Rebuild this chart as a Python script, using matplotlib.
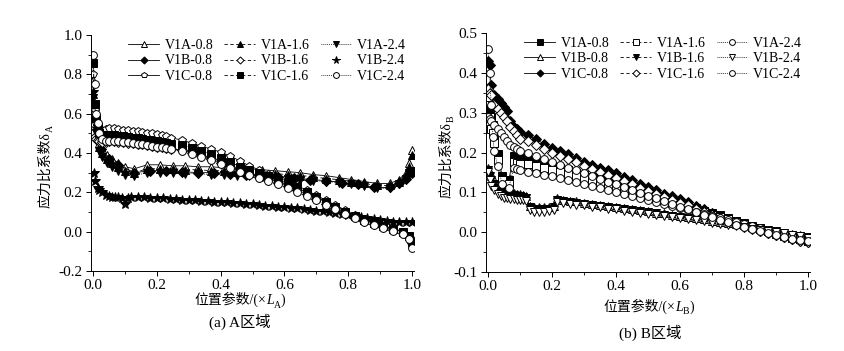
import matplotlib
matplotlib.use('Agg')
import matplotlib.pyplot as plt
from matplotlib.ticker import MultipleLocator, FormatStrFormatter

plt.rcParams['font.family'] = ['Liberation Serif', 'Noto Sans CJK SC']
plt.rcParams['axes.unicode_minus'] = False
plt.rcParams['font.size'] = 10

# ---------------- (a) A region ----------------
xA_up = [0.0, 0.005, 0.01, 0.015, 0.02, 0.03, 0.04, 0.05, 0.065, 0.08, 0.095, 0.11, 0.125, 0.14,
         0.155, 0.17, 0.185, 0.2, 0.215, 0.23, 0.245, 0.28, 0.31, 0.34, 0.37, 0.4, 0.43, 0.46, 0.49,
         0.52, 0.55, 0.58, 0.61, 0.64, 0.67, 0.7, 0.73, 0.76, 0.79, 0.82, 0.85, 0.88, 0.91, 0.94,
         0.97, 0.99, 1.0]
xA_mid = [0.0, 0.005, 0.01, 0.02, 0.03, 0.045, 0.06, 0.08, 0.1, 0.13, 0.17, 0.21, 0.25, 0.29,
          0.33, 0.37, 0.41, 0.45, 0.49, 0.53, 0.57, 0.61, 0.65, 0.69, 0.73, 0.77, 0.81, 0.85,
          0.89, 0.93, 0.96, 0.98, 0.99, 1.0]
xA_b08 = [0.0, 0.01, 0.025, 0.05, 0.08, 0.13, 0.18, 0.23, 0.28, 0.33, 0.38, 0.43, 0.48, 0.53,
          0.58, 0.63, 0.68, 0.73, 0.78, 0.83, 0.88, 0.93, 0.96, 0.98, 1.0]
xA_low = [0.0, 0.003, 0.008, 0.015, 0.02, 0.03, 0.04, 0.05, 0.06, 0.07, 0.08, 0.09, 0.1, 0.11,
          0.12, 0.14, 0.16, 0.18, 0.2, 0.22, 0.24, 0.26, 0.28, 0.3, 0.32, 0.34, 0.36, 0.38, 0.4,
          0.42, 0.44, 0.46, 0.48, 0.5, 0.52, 0.54, 0.56, 0.58, 0.6, 0.62, 0.64, 0.66, 0.68, 0.7,
          0.72, 0.74, 0.76, 0.78, 0.8, 0.82, 0.84, 0.86, 0.88, 0.9, 0.92, 0.94, 0.96, 0.98, 1.0]

a_V1A_08 = [0.77, 0.64, 0.55, 0.45, 0.42, 0.39, 0.37, 0.35, 0.33, 0.32, 0.34, 0.34, 0.335, 0.335,
            0.33, 0.33, 0.325, 0.32, 0.32, 0.315, 0.31, 0.305, 0.30, 0.29, 0.285, 0.275, 0.265,
            0.255, 0.245, 0.245, 0.265, 0.30, 0.35, 0.415]
a_V1A_16 = [0.70, 0.60, 0.52, 0.43, 0.40, 0.37, 0.35, 0.33, 0.31, 0.30, 0.32, 0.32, 0.32, 0.315,
            0.315, 0.31, 0.31, 0.305, 0.30, 0.30, 0.295, 0.29, 0.285, 0.28, 0.27, 0.265, 0.255,
            0.245, 0.235, 0.235, 0.255, 0.29, 0.33, 0.39]
a_V1A_24 = [0.68, 0.58, 0.50, 0.41, 0.38, 0.35, 0.33, 0.31, 0.29, 0.285, 0.30, 0.30, 0.30, 0.295,
            0.295, 0.29, 0.29, 0.285, 0.285, 0.28, 0.275, 0.27, 0.265, 0.26, 0.255, 0.25, 0.24,
            0.23, 0.22, 0.22, 0.24, 0.27, 0.30, 0.31]
a_V1B_08 = [0.65, 0.50, 0.42, 0.37, 0.34, 0.30, 0.31, 0.31, 0.305, 0.30, 0.30, 0.295, 0.29, 0.285,
            0.28, 0.275, 0.265, 0.26, 0.25, 0.24, 0.225, 0.225, 0.245, 0.27, 0.30]
a_V1B_16 = [0.50, 0.48, 0.47, 0.465, 0.46, 0.455, 0.458, 0.46, 0.46, 0.458, 0.455, 0.452, 0.45,
            0.447, 0.444, 0.44, 0.437, 0.433, 0.43, 0.426, 0.422, 0.415, 0.40, 0.385, 0.37, 0.35,
            0.33, 0.31, 0.295, 0.28, 0.265, 0.25, 0.23, 0.21, 0.19, 0.165, 0.14, 0.12, 0.095,
            0.075, 0.055, 0.04, 0.025, 0.01, -0.005, -0.025, -0.06]
a_V1B_24 = [0.71, 0.30, 0.26, 0.22, 0.21, 0.20, 0.185, 0.18, 0.175, 0.175, 0.178, 0.17, 0.14, 0.17,
            0.175, 0.175, 0.174, 0.172, 0.17, 0.169, 0.167, 0.165, 0.163, 0.161, 0.159, 0.157,
            0.155, 0.153, 0.151, 0.149, 0.147, 0.145, 0.142, 0.139, 0.136, 0.133, 0.13, 0.127,
            0.124, 0.121, 0.118, 0.115, 0.111, 0.107, 0.103, 0.099, 0.095, 0.09, 0.085, 0.08,
            0.075, 0.07, 0.065, 0.06, 0.055, 0.05, 0.048, 0.047, 0.048]
a_V1C_08 = [0.80, 0.62, 0.55, 0.52, 0.51, 0.515, 0.52, 0.525, 0.525, 0.52, 0.518, 0.515, 0.512,
            0.51, 0.507, 0.503, 0.5, 0.495, 0.49, 0.485, 0.478, 0.465, 0.45, 0.435, 0.42, 0.405,
            0.385, 0.36, 0.335, 0.315, 0.295, 0.275, 0.255, 0.235, 0.21, 0.185, 0.16, 0.135, 0.11,
            0.085, 0.065, 0.045, 0.03, 0.015, 0.0, -0.03, -0.08]
a_V1C_16 = [0.86, 0.65, 0.58, 0.53, 0.50, 0.49, 0.49, 0.49, 0.49, 0.488, 0.485, 0.482, 0.478,
            0.475, 0.47, 0.467, 0.463, 0.46, 0.455, 0.45, 0.445, 0.44, 0.425, 0.41, 0.395, 0.375,
            0.355, 0.33, 0.315, 0.30, 0.285, 0.265, 0.245, 0.225, 0.20, 0.175, 0.15, 0.125, 0.10,
            0.08, 0.06, 0.045, 0.03, 0.015, 0.0, -0.02, -0.05]
a_V1C_24 = [0.90, 0.75, 0.60, 0.55, 0.50, 0.47, 0.462, 0.462, 0.462, 0.46, 0.457, 0.454, 0.451,
            0.448, 0.445, 0.441, 0.437, 0.433, 0.429, 0.425, 0.42, 0.41, 0.395, 0.38, 0.365, 0.345,
            0.325, 0.305, 0.29, 0.275, 0.26, 0.24, 0.22, 0.2, 0.18, 0.16, 0.135, 0.115, 0.09,
            0.07, 0.05, 0.035, 0.02, 0.005, -0.01, -0.035, -0.085]

# ---------------- (b) B region ----------------
xB_tail = [0.125, 0.15, 0.175, 0.2, 0.225, 0.25, 0.275, 0.3, 0.325, 0.35, 0.375, 0.4, 0.425, 0.45,
           0.475, 0.5, 0.525, 0.55, 0.575, 0.6, 0.625, 0.65, 0.675, 0.7, 0.725, 0.75, 0.775, 0.8,
           0.825, 0.85, 0.875, 0.9, 0.925, 0.95, 0.975, 1.0]
xB_a = [0.0, 0.005, 0.01, 0.015, 0.02, 0.03, 0.045, 0.065, 0.08, 0.09, 0.1] + xB_tail
xB_c = [0.0, 0.005, 0.01, 0.02, 0.03, 0.04, 0.05, 0.06, 0.07, 0.08, 0.09, 0.1] + xB_tail
xB_b = [0.0, 0.005, 0.01, 0.02, 0.03, 0.04, 0.05, 0.06, 0.07, 0.08, 0.09, 0.1, 0.11, 0.12, 0.13,
        0.145, 0.16, 0.175, 0.19, 0.205, 0.215, 0.235, 0.255, 0.275, 0.3, 0.325, 0.35, 0.375,
        0.4, 0.425, 0.45, 0.475, 0.5, 0.525, 0.55, 0.575, 0.6, 0.625, 0.65, 0.675, 0.7, 0.725,
        0.75, 0.775, 0.8, 0.825, 0.85, 0.875, 0.9, 0.925, 0.95, 0.975, 1.0]

b_V1A_08 = [0.36, 0.31, 0.29, 0.27, 0.245, 0.195, 0.14, 0.13, 0.19, 0.188, 0.185,
            0.18, 0.176, 0.17, 0.165, 0.16, 0.155, 0.149, 0.144, 0.139, 0.134, 0.128, 0.123,
            0.118, 0.112, 0.106, 0.1, 0.094, 0.087, 0.08, 0.073, 0.067, 0.06, 0.054, 0.048,
            0.042, 0.035, 0.029, 0.023, 0.016, 0.01, 0.004, -0.002, -0.008, -0.013, -0.018, -0.022]
b_V1A_16 = [0.34, 0.29, 0.26, 0.25, 0.225, 0.18, 0.13, 0.12, 0.175, 0.173, 0.17,
            0.172, 0.167, 0.162, 0.157, 0.152, 0.147, 0.141, 0.136, 0.131, 0.126, 0.12, 0.115,
            0.11, 0.104, 0.098, 0.092, 0.086, 0.08, 0.074, 0.068, 0.062, 0.056, 0.05, 0.044,
            0.038, 0.032, 0.026, 0.02, 0.014, 0.008, 0.002, -0.004, -0.009, -0.014, -0.018, -0.022]
b_V1A_24 = [0.46, 0.40, 0.32, 0.24, 0.205, 0.165, 0.12, 0.11, 0.16, 0.158, 0.156,
            0.152, 0.148, 0.144, 0.14, 0.136, 0.131, 0.126, 0.121, 0.116, 0.111, 0.106, 0.1,
            0.095, 0.09, 0.085, 0.08, 0.075, 0.07, 0.065, 0.06, 0.055, 0.05, 0.045, 0.04, 0.035,
            0.03, 0.025, 0.02, 0.015, 0.01, 0.005, 0.0, -0.005, -0.01, -0.015, -0.02]
b_V1B_08 = [0.16, 0.15, 0.14, 0.13, 0.12, 0.112, 0.106, 0.102, 0.1, 0.098, 0.097, 0.096, 0.094,
            0.092, 0.066, 0.063, 0.062, 0.062, 0.063, 0.066, 0.085, 0.082, 0.079, 0.077, 0.074,
            0.071, 0.069, 0.066, 0.064, 0.061, 0.058, 0.055, 0.052, 0.049, 0.047, 0.044, 0.041,
            0.038, 0.035, 0.032, 0.029, 0.026, 0.023, 0.02, 0.017, 0.013, 0.01, 0.006, 0.003,
            -0.001, -0.005, -0.008, -0.012]
b_V1B_16 = [0.155, 0.14, 0.13, 0.12, 0.11, 0.104, 0.1, 0.097, 0.095, 0.093, 0.092, 0.09, 0.089,
            0.087, 0.062, 0.058, 0.057, 0.057, 0.058, 0.062, 0.081, 0.079, 0.076, 0.074, 0.071,
            0.069, 0.066, 0.063, 0.061, 0.058, 0.055, 0.052, 0.05, 0.047, 0.044, 0.041, 0.038,
            0.036, 0.033, 0.03, 0.027, 0.024, 0.021, 0.018, 0.015, 0.012, 0.008, 0.005, 0.002,
            -0.002, -0.006, -0.009, -0.013]
b_V1B_24 = [0.15, 0.13, 0.115, 0.105, 0.095, 0.09, 0.087, 0.085, 0.084, 0.083, 0.082, 0.081, 0.08,
            0.079, 0.055, 0.05, 0.05, 0.05, 0.052, 0.056, 0.075, 0.073, 0.071, 0.069, 0.067,
            0.064, 0.062, 0.059, 0.057, 0.054, 0.051, 0.049, 0.046, 0.043, 0.041, 0.038, 0.035,
            0.033, 0.03, 0.027, 0.024, 0.021, 0.018, 0.015, 0.012, 0.009, 0.006, 0.003, 0.0,
            -0.003, -0.007, -0.01, -0.014]
b_V1C_08 = [0.43, 0.42, 0.37, 0.345, 0.335, 0.325, 0.315, 0.305, 0.28, 0.265, 0.26, 0.252,
            0.243, 0.233, 0.222, 0.212, 0.203, 0.195, 0.186, 0.177, 0.169, 0.161, 0.155, 0.148,
            0.139, 0.131, 0.122, 0.113, 0.105, 0.097, 0.09, 0.083, 0.075, 0.066, 0.057, 0.047,
            0.038, 0.03, 0.022, 0.016, 0.01, 0.004, -0.002, -0.007, -0.012, -0.017, -0.021, -0.025]
b_V1C_16 = [0.36, 0.35, 0.345, 0.32, 0.31, 0.3, 0.29, 0.28, 0.265, 0.255, 0.245, 0.235,
            0.228, 0.22, 0.21, 0.2, 0.192, 0.183, 0.175, 0.166, 0.158, 0.15, 0.143, 0.136, 0.128,
            0.12, 0.112, 0.104, 0.096, 0.088, 0.081, 0.074, 0.067, 0.059, 0.051, 0.043, 0.035,
            0.027, 0.02, 0.014, 0.008, 0.003, -0.003, -0.008, -0.013, -0.017, -0.021, -0.024]
b_V1C_24 = [0.29, 0.285, 0.28, 0.27, 0.26, 0.25, 0.24, 0.23, 0.22, 0.215, 0.21, 0.205,
            0.198, 0.19, 0.183, 0.176, 0.169, 0.162, 0.155, 0.148, 0.141, 0.134, 0.127, 0.12,
            0.113, 0.106, 0.099, 0.092, 0.085, 0.078, 0.071, 0.064, 0.057, 0.05, 0.043, 0.037,
            0.031, 0.025, 0.019, 0.013, 0.008, 0.003, -0.002, -0.007, -0.012, -0.016, -0.02, -0.023]

# line style per spacing
ls_map = {'0.8': '-', '1.6': (0, (4, 3)), '2.4': (0, (1, 1.3))}

# (label, x, y, marker, filled, draw_line) in legend (column-major) order
series_a = [
    ('V1A-0.8', xA_mid, a_V1A_08, '^', False, True),
    ('V1B-0.8', xA_b08, a_V1B_08, 'D', True, True),
    ('V1C-0.8', xA_up, a_V1C_08, 'p', False, True),
    ('V1A-1.6', xA_mid, a_V1A_16, '^', True, True),
    ('V1B-1.6', xA_up, a_V1B_16, 'D', False, True),
    ('V1C-1.6', xA_up, a_V1C_16, 's', True, True),
    ('V1A-2.4', xA_mid, a_V1A_24, 'v', True, True),
    ('V1B-2.4', xA_low, a_V1B_24, '*', True, False),
    ('V1C-2.4', xA_up, a_V1C_24, 'o', False, True),
]
series_b = [
    ('V1A-0.8', xB_a, b_V1A_08, 's', True, True),
    ('V1B-0.8', xB_b, b_V1B_08, '^', False, True),
    ('V1C-0.8', xB_c, b_V1C_08, 'D', True, True),
    ('V1A-1.6', xB_a, b_V1A_16, 's', False, True),
    ('V1B-1.6', xB_b, b_V1B_16, 'v', True, True),
    ('V1C-1.6', xB_c, b_V1C_16, 'D', False, True),
    ('V1A-2.4', xB_a, b_V1A_24, 'o', False, True),
    ('V1B-2.4', xB_b, b_V1B_24, 'v', False, True),
    ('V1C-2.4', xB_c, b_V1C_24, 'o', False, True),
]

W, H = 844, 351
fig = plt.figure(figsize=(W / 100, H / 100), dpi=100)
ax1 = fig.add_axes([91 / W, 80 / H, 323 / W, 236 / H])
ax2 = fig.add_axes([486 / W, 79 / H, 324 / W, 239 / H])


def draw(ax, series):
    for lab, x, y, mk, filled, line in series:
        ms = 4.8 if mk == 'D' else (7.5 if mk == '*' else 5.6)
        ax.plot(x, y, color='black', lw=0.6,
                ls=ls_map[lab[-3:]] if line else 'none',
                marker=mk, ms=ms, mew=0.7, mec='black',
                mfc='black' if filled else 'white', label=lab)


draw(ax1, series_a)
draw(ax2, series_b)

for ax, ylo, yhi, ymaj in [(ax1, -0.2, 1.0, 0.2), (ax2, -0.1, 0.5, 0.1)]:
    ax.set_xlim(-0.006, 1.006)
    ax.set_ylim(ylo, yhi)
    ax.spines['top'].set_visible(False)
    ax.spines['right'].set_visible(False)
    ax.xaxis.set_major_locator(MultipleLocator(0.2))
    ax.xaxis.set_minor_locator(MultipleLocator(0.1))
    ax.yaxis.set_major_locator(MultipleLocator(ymaj))
    ax.yaxis.set_minor_locator(MultipleLocator(ymaj / 2))
    ax.xaxis.set_major_formatter(FormatStrFormatter('%.1f'))
    ax.yaxis.set_major_formatter(FormatStrFormatter('%.1f'))
    ax.tick_params(which='major', direction='out', length=3.5, width=0.7, labelsize=11, pad=2.5)
    ax.tick_params(which='minor', direction='out', length=2, width=0.6)
    for sp in ('left', 'bottom'):
        ax.spines[sp].set_linewidth(0.7)
    ax.legend(ncol=3, loc='upper right', bbox_to_anchor=(1.0, 1.02), frameon=False,
              fontsize=10, handlelength=2.2, handletextpad=0.4, columnspacing=0.8,
              labelspacing=0.2, markerscale=0.75, borderaxespad=0.2)


def x_label(px, py, sub):
    t1 = fig.text(px / W, py / H, '位置参数/(×', ha='left', va='bottom', fontsize=10)
    t2 = ax1.annotate('L', xy=(1, 0), xycoords=t1, ha='left', va='bottom',
                      fontsize=10, style='italic', annotation_clip=False)
    t3 = ax1.annotate(sub, xy=(1, 0), xycoords=t2, ha='left', va='bottom',
                      xytext=(0, -1.8), textcoords='offset points', fontsize=7,
                      annotation_clip=False)
    ax1.annotate(')', xy=(1, 0), xycoords=(t3, t2), ha='left', va='bottom',
                 fontsize=10, annotation_clip=False)


def y_label(px, py, sub):
    t1 = fig.text(px / W, py / H, '应力比系数δ', rotation=90, ha='center', va='bottom',
                  fontsize=10)
    ax1.annotate(sub, xy=(1, 1), xycoords=t1, ha='right', va='bottom', rotation=90,
                 xytext=(1.5, 0), textcoords='offset points', fontsize=7,
                 annotation_clip=False)


x_label(194, 44, 'A')
x_label(603, 37, 'B')
y_label(46, 143, 'A')
y_label(447, 153, 'B')

fig.text(240 / W, 29 / H, '(a) A区域', ha='center', va='center', fontsize=11)
fig.text(650 / W, 18 / H, '(b) B区域', ha='center', va='center', fontsize=11)

fig.savefig('out.png', dpi=100)
